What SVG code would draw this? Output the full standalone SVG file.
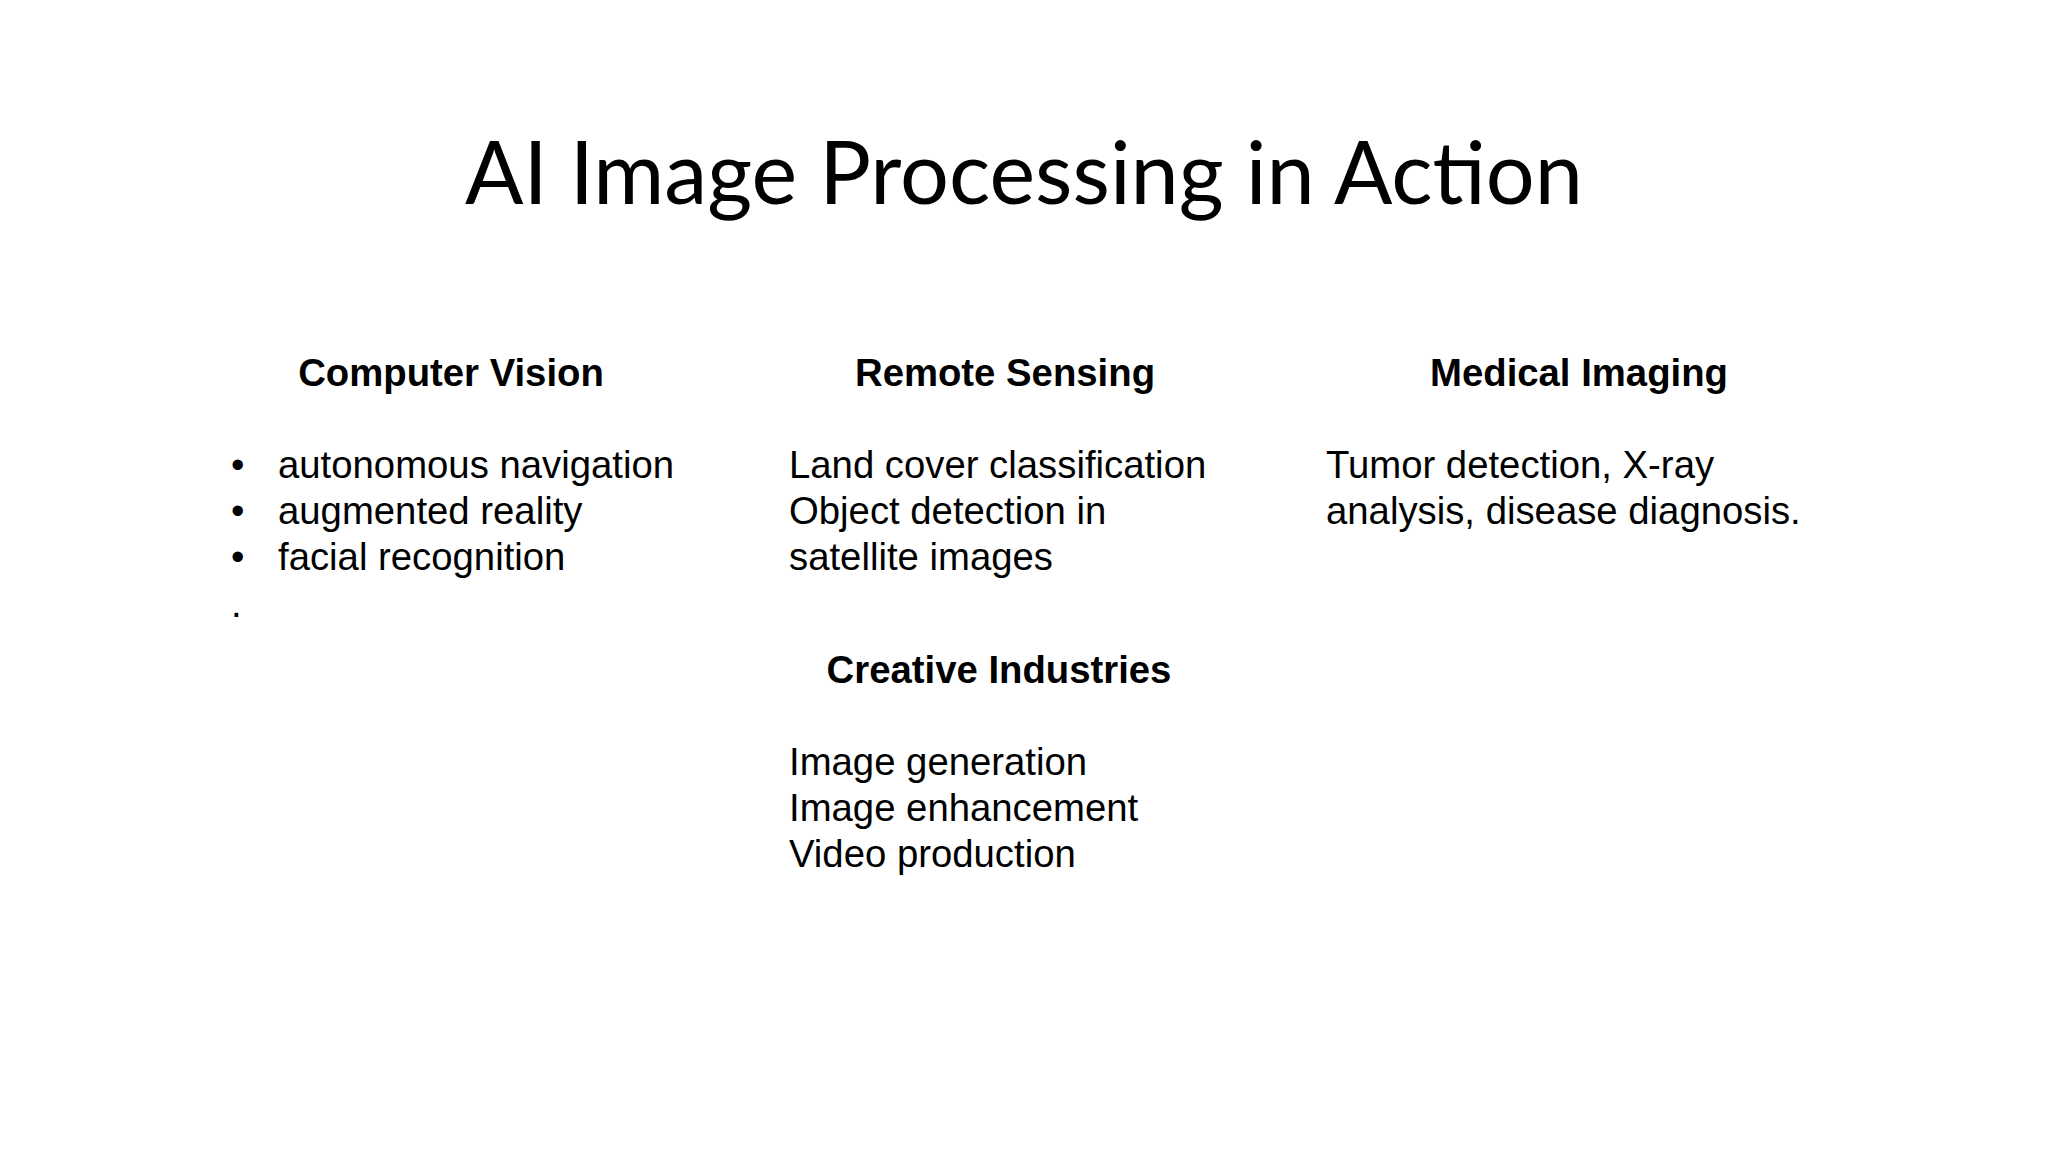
<svg xmlns="http://www.w3.org/2000/svg" width="2048" height="1152" viewBox="0 0 2048 1152">
<style>
.t{font-family:Lato,"Open Sans",sans-serif;font-size:86.4px;fill:#000}
.h{font-family:"Liberation Sans",Arial,sans-serif;font-size:38.3px;font-weight:bold;fill:#000}
.b{font-family:"Liberation Sans",Arial,sans-serif;font-size:38.3px;fill:#000}
</style>
<rect width="2048" height="1152" fill="#fff"/>
<text class="t" x="1024" y="204" text-anchor="middle">AI Image Processing in Action</text>
<g id="computer-vision">
<text class="h" x="451" y="386" text-anchor="middle">Computer Vision</text>
<text class="b" x="231" y="478">•</text><text class="b" x="278" y="478">autonomous navigation</text>
<text class="b" x="231" y="524">•</text><text class="b" x="278" y="524">augmented reality</text>
<text class="b" x="231" y="570">•</text><text class="b" x="278" y="570">facial recognition</text>
<text class="b" x="231" y="617">.</text>
</g>
<g id="remote-sensing">
<text class="h" x="1005" y="386" text-anchor="middle">Remote Sensing</text>
<text class="b" x="789" y="478">Land cover classification</text>
<text class="b" x="789" y="524">Object detection in</text>
<text class="b" x="789" y="570">satellite images</text>
</g>
<g id="medical-imaging">
<text class="h" x="1579" y="386" text-anchor="middle">Medical Imaging</text>
<text class="b" x="1326" y="478">Tumor detection, X-ray</text>
<text class="b" x="1326" y="524">analysis, disease diagnosis.</text>
</g>
<g id="creative-industries">
<text class="h" x="999" y="683" text-anchor="middle">Creative Industries</text>
<text class="b" x="789" y="775">Image generation</text>
<text class="b" x="789" y="821">Image enhancement</text>
<text class="b" x="789" y="867">Video production</text>
</g>
<g id="connectors"/>
</svg>
